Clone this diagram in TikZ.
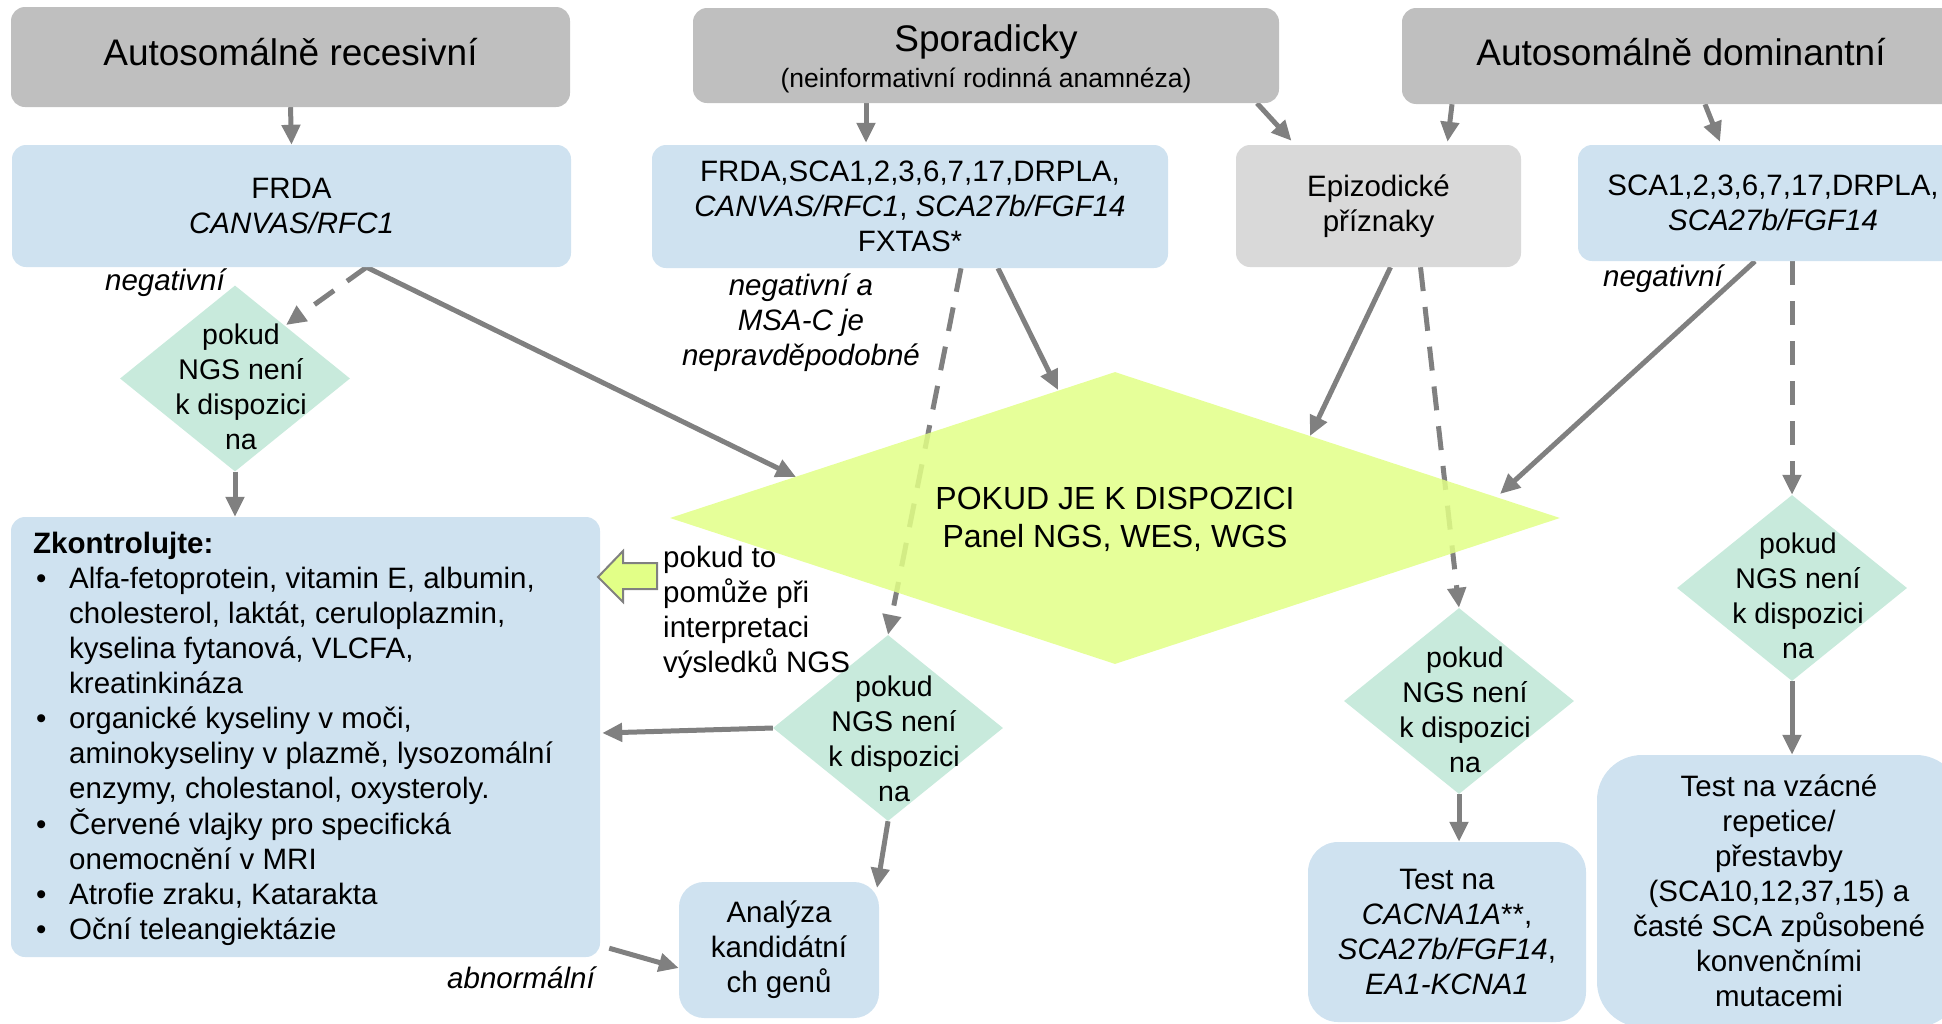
\documentclass[tikz,border=0pt]{standalone}
\usepackage{fontspec}
\setmainfont{Liberation Sans}
\usetikzlibrary{shapes.geometric,arrows.meta,calc,backgrounds}
\definecolor{tgray}{RGB}{191,191,191}
\definecolor{egray}{RGB}{217,217,217}
\definecolor{lblue}{RGB}{207,226,240}
\definecolor{mint}{RGB}{200,234,220}
\definecolor{ygreen}{RGB}{226,255,135}
\definecolor{agray}{RGB}{128,128,128}
\newcommand{\bodyfont}{\fontsize{29.5}{35}\selectfont}
\newcommand{\diafont}{\fontsize{28.5}{35}\selectfont}
\newcommand{\subfont}{\fontsize{26.5}{34}\selectfont}
\newcommand{\titlefont}{\fontsize{37}{42}\selectfont}
\newcommand{\bigfont}{\fontsize{32}{38}\selectfont}
\begin{document}
\begin{tikzpicture}[x=1pt,y=-1pt,
  box/.style={rectangle, rounded corners=14pt, inner sep=0pt, align=center, font=\bodyfont},
  titlebox/.style={box, fill=tgray},
  ttext/.style={inner sep=0pt, font=\titlefont},
  bluebox/.style={box, fill=lblue},
  dia/.style={diamond, fill=mint, inner sep=0pt, minimum width=230pt, minimum height=186pt},
  dtext/.style={inner sep=0pt, align=center, font=\diafont},
  lbl/.style={inner sep=0pt, align=center, font=\bodyfont\itshape},
  arr/.style={draw=agray, line width=5pt, -{Triangle[length=20pt,width=18pt]}},
  darr/.style={arr, dash pattern=on 24pt off 16pt},
]
\useasboundingbox (0,0) rectangle (1942,1023);

% top boxes
\node[titlebox, minimum width=559pt, minimum height=100pt] (t1) at (290.5,57) {};
\node[ttext] (t1t) at (290.5,52) {Autosomálně recesivní};
\node[titlebox, minimum width=586pt, minimum height=95pt] (t2) at (986,55.5) {};
\node[ttext] (t2a) at (986,42) {Sporadicky};
\node[inner sep=0pt, font=\subfont] (t2b) at (986,80) {(neinformativní rodinná anamnéza)};
\node[titlebox, minimum width=558pt, minimum height=96pt] (t3) at (1681,56) {};
\node[ttext] (t3t) at (1681,52) {Autosomálně dominantní};

% second row
\node[bluebox, minimum width=559pt, minimum height=122pt] (b1) at (291.5,206) {FRDA\\\textit{CANVAS/RFC1}};
\node[bluebox, minimum width=516pt, minimum height=123pt] (b2) at (910,206.5) {FRDA,SCA1,2,3,6,7,17,DRPLA,\\\textit{CANVAS/RFC1}, \textit{SCA27b/FGF14}\\FXTAS*};
\node[box, fill=egray, minimum width=285pt, minimum height=122pt] (b3) at (1378.5,206) {Epizodické\\příznaky};
\node[bluebox, minimum width=390pt, minimum height=116pt] (b4) at (1773,203) {SCA1,2,3,6,7,17,DRPLA,\\\textit{SCA27b/FGF14}};

% main diamond
\node[diamond, fill=ygreen, fill opacity=0.85, inner sep=0pt, minimum width=890pt, minimum height=292pt] (md) at (1115,518) {};
\node[inner sep=0pt, align=center, font=\bigfont] (mdt) at (1115,519) {POKUD JE K DISPOZICI\\Panel NGS, WES, WGS};

% small diamonds
\node[dia] (d1) at (235,378.5) {};
\node[dtext] (d1t) at (241,387) {pokud\\NGS není\\k dispozici\\na};
\node[dia] (d2) at (888,728) {};
\node[dtext] (d2t) at (894,739) {pokud\\NGS není\\k dispozici\\na};
\node[dia] (d3) at (1459,701) {};
\node[dtext] (d3t) at (1465,710) {pokud\\NGS není\\k dispozici\\na};
\node[dia] (d4) at (1792,588) {};
\node[dtext] (d4t) at (1798,596) {pokud\\NGS není\\k dispozici\\na};

% lower boxes
\node[bluebox, minimum width=589pt, minimum height=440pt] (zk) at (305.5,737) {};
\node[anchor=base west, inner sep=0pt, font=\bodyfont] (zktext) at (33,553) {%
\begin{tabular}[t]{@{}p{36pt}@{}l@{}}
\multicolumn{2}{@{}l@{}}{\textbf{Zkontrolujte:}}\\
\hspace{3pt}•& Alfa-fetoprotein, vitamin E, albumin,\\
& cholesterol, laktát, ceruloplazmin,\\
& kyselina fytanová, VLCFA,\\
& kreatinkináza\\
\hspace{3pt}•& organické kyseliny v moči,\\
& aminokyseliny v plazmě, lysozomální\\
& enzymy, cholestanol, oxysteroly.\\
\hspace{3pt}•& Červené vlajky pro specifická\\
& onemocnění v MRI\\
\hspace{3pt}•& Atrofie zraku, Katarakta\\
\hspace{3pt}•& Oční teleangiektázie
\end{tabular}};
\node[bluebox, rounded corners=25pt, minimum width=200pt, minimum height=136pt] (an) at (779,950) {Analýza\\kandidátní\\ch genů};
\node[bluebox, rounded corners=30pt, minimum width=278pt, minimum height=180pt] (tb1) at (1447,932) {Test na\\\textit{CACNA1A}**,\\\textit{SCA27b/FGF14},\\\textit{EA1-KCNA1}};
\node[bluebox, rounded corners=45pt, minimum width=364pt, minimum height=272pt] (tb2) at (1779,891) {Test na vzácné\\repetice/\\přestavby\\(SCA10,12,37,15) a\\časté SCA způsobené\\konvenčními\\mutacemi};

% labels
\node[lbl] (l1) at (165,283) {negativní};
\node[lbl] (l2) at (801,323) {negativní a\\MSA-C je\\nepravděpodobné};
\node[lbl] (l3) at (1663,279) {negativní};
\node[lbl] (l4) at (521,978) {abnormální};
\node[inner sep=0pt, align=left, font=\bodyfont, anchor=west] (l5) at (663,612) {pokud to\\pomůže při\\interpretaci\\výsledků NGS};

% block arrow
\coordinate (ba) at (598,577);
\draw[agray, line width=2pt, fill=ygreen, line join=miter]
  (ba) -- ++(25,-26) -- ++(0,12) -- ++(34,0) -- ++(0,26) -- ++(-34,0) -- ++(0,13) -- cycle;

% connectors
\begin{pgfonlayer}{background}
\draw[arr] (t1.south) -- (b1.north);
\draw[arr] ($(t2.south)+(-120,0)$) -- ($(b2.north)+(-44,-2)$);
\draw[arr] ($(t2.south)+(271,0)$) -- ($(b3.north)+(-87,-4)$);
\draw[arr] ($(t3.south)+(-229,0)$) -- ($(b3.north)+(69,-3)$);
\draw[arr] ($(t3.south)+(24,0)$) -- ($(b4.north)+(-53,-3)$);

\draw[arr] ($(b1.south)+(75,0)$) -- ($(md.center)+(-319,-41)$);
\draw[darr] ($(b1.south)+(75,0)$) -- ($(d1.center)+(51,-53.5)$);
\draw[arr] (d1.south) -- (d1.south |- zk.north);

\draw[darr] ($(b2.south)+(51,0)$) -- (d2.north);
\draw[arr] ($(b2.south)+(88,0)$) -- ($(md.center)+(-57,-128)$);

\draw[arr] ($(b3.south)+(12,0)$) -- ($(md.center)+(195,-82)$);
\draw[darr] ($(b3.south)+(42,0)$) -- (d3.north);

\draw[arr] ($(b4.south)+(-18,0)$) -- ($(md.center)+(385,-24)$);
\draw[darr] ($(b4.south)+(19,0)$) -- (d4.north);

\draw[arr] (d4.south) -- (d4.south |- tb2.north);
\draw[arr] (d3.south) -- (d3.south |- tb1.north);
\draw[arr] (d2.west) -- ($(zk.east)+(2,-4)$);
\draw[arr] (d2.south) -- ($(an.center)+(98,-62)$);
\draw[arr] ($(zk.south east)+(9,-9)$) -- ($(an.west)+(0,18)$);
\end{pgfonlayer}
\end{tikzpicture}
\end{document}
